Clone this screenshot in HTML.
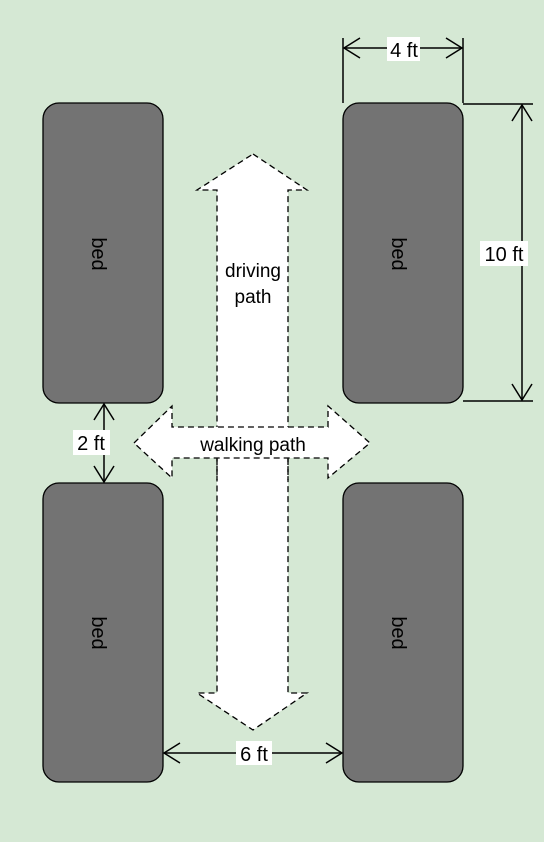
<!DOCTYPE html>
<html><head><meta charset="utf-8"><style>
html,body{margin:0;padding:0;background:#d5e8d4;}
svg{display:block;font-family:"Liberation Sans",Arial,sans-serif;}
</style></head><body>
<svg width="544" height="842" viewBox="0 0 544 842">
<rect x="0" y="0" width="544" height="842" fill="#d5e8d4"/>
<defs>
<marker id="ah" viewBox="0 0 18 22" refX="17" refY="11" markerWidth="18" markerHeight="22" markerUnits="userSpaceOnUse" orient="auto-start-reverse">
<path d="M1,1 L17,11 L1,21" fill="none" stroke="#000" stroke-width="1.5"/>
</marker>
</defs>

<g stroke="#000" stroke-width="1.3" fill="#737373">
<rect x="43" y="103" width="120" height="300" rx="16"/>
<rect x="343" y="103" width="120" height="300" rx="16"/>
<rect x="43" y="483" width="120" height="299" rx="16"/>
<rect x="343" y="483" width="120" height="299" rx="16"/>
</g>
<g font-size="20" fill="#000" text-anchor="middle">
<text transform="translate(103,254) rotate(90)" dy="11">bed</text>
<text transform="translate(403,254) rotate(90)" dy="11">bed</text>
<text transform="translate(103,633) rotate(90)" dy="11">bed</text>
<text transform="translate(403,633) rotate(90)" dy="11">bed</text>
</g>

<path d="M253,154 L307,190 L288,190 L288,693 L307,693 L253,730 L197,693 L217,693 L217,190 L197,190 Z" fill="#fff" stroke="#000" stroke-width="1.3" stroke-dasharray="6,4"/>
<text x="253" y="277" font-size="19" text-anchor="middle"><tspan x="253">driving</tspan><tspan x="253" dy="26">path</tspan></text>

<path d="M134,443 L172,406 L172,427 L328,427 L328,406 L370,443 L328,478 L328,458 L172,458 L172,478 Z" fill="#fff" stroke="#000" stroke-width="1.3" stroke-dasharray="6,4"/>
<path d="M217,459 L217,480 M288,459 L288,480" stroke="#000" stroke-width="1.3" stroke-dasharray="6,4" fill="none"/>
<text x="253" y="451" font-size="19" text-anchor="middle">walking path</text>

<g stroke="#000" stroke-width="1.5" fill="none">
<path d="M343,38 L343,103 M463,38 L463,103"/>
<line x1="344" y1="48" x2="462" y2="48" marker-start="url(#ah)" marker-end="url(#ah)"/>
<path d="M463,104 L533,104 M463,401 L533,401"/>
<line x1="522" y1="105" x2="522" y2="400" marker-start="url(#ah)" marker-end="url(#ah)"/>
<line x1="104" y1="404" x2="104" y2="482" marker-start="url(#ah)" marker-end="url(#ah)"/>
<line x1="164" y1="753" x2="342" y2="753" marker-start="url(#ah)" marker-end="url(#ah)"/>
</g>
<g font-size="20" text-anchor="middle">
<rect x="387" y="37" width="33" height="24" fill="#fff"/>
<text x="404" y="57">4 ft</text>
<rect x="480" y="241" width="48" height="25" fill="#fff"/>
<text x="504" y="261">10 ft</text>
<rect x="73" y="430" width="37" height="25" fill="#fff"/>
<text x="91" y="450">2 ft</text>
<rect x="236" y="741" width="36" height="24" fill="#fff"/>
<text x="254" y="761">6 ft</text>
</g>
</svg>
</body></html>
